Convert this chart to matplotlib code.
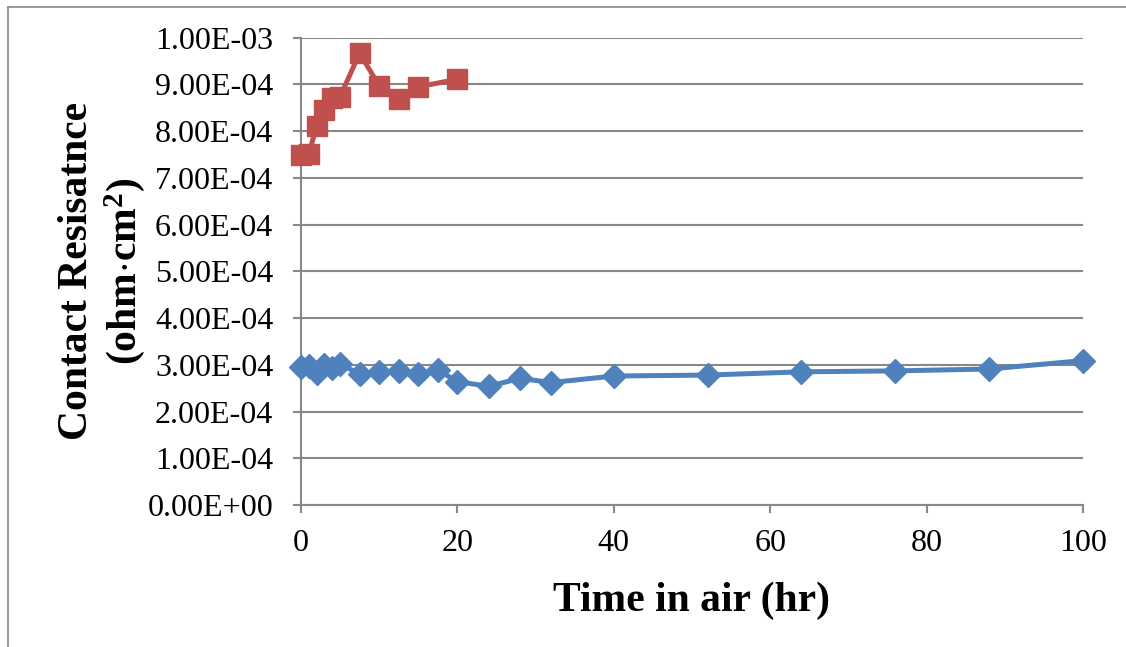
import matplotlib
matplotlib.use('Agg')
import matplotlib.pyplot as plt
from matplotlib.lines import Line2D
from matplotlib.ticker import FuncFormatter

# time in air (hr) and contact resistance (ohm cm^2)
red_time = [0, 1, 2, 3, 4, 5, 7.5, 10, 12.5, 15, 20]
red_res = [7.49e-4, 7.51e-4, 8.11e-4, 8.45e-4, 8.70e-4, 8.74e-4,
           9.67e-4, 8.97e-4, 8.68e-4, 8.95e-4, 9.11e-4]

blue_time = [0, 1, 2, 3, 4, 5, 7.5, 10, 12.5, 15, 17.5, 20, 24, 28, 32,
             40, 52, 64, 76, 88, 100]
blue_res = [2.96e-4, 2.97e-4, 2.82e-4, 3.00e-4, 2.93e-4, 3.02e-4, 2.80e-4,
            2.84e-4, 2.87e-4, 2.80e-4, 2.89e-4, 2.64e-4, 2.54e-4, 2.71e-4,
            2.62e-4, 2.76e-4, 2.78e-4, 2.85e-4, 2.87e-4, 2.91e-4, 3.09e-4]

y_ticks = [i * 1e-4 for i in range(11)]
x_ticks = [0, 20, 40, 60, 80, 100]

plt.rcParams['font.family'] = 'Liberation Serif'
plt.rcParams['mathtext.fontset'] = 'custom'
plt.rcParams['mathtext.rm'] = 'Liberation Serif'
plt.rcParams['mathtext.bf'] = 'Liberation Serif:bold'

grey = '#888888'

fig = plt.figure(figsize=(11.26, 6.47), dpi=100)
ax = fig.add_axes([0.2673, 0.2195, 0.6945, 0.7222])

ax.plot(blue_time, blue_res, color='#4F81BD', lw=3.6, marker='D', ms=12,
        clip_on=False, zorder=3)
ax.plot(red_time, red_res, color='#C0504D', lw=3.6, marker='s', ms=15,
        clip_on=False, zorder=4)

ax.set_xlim(0, 100)
ax.set_ylim(0, 1e-3)
ax.set_xticks(x_ticks)
ax.set_yticks(y_ticks)
ax.yaxis.set_major_formatter(FuncFormatter(lambda v, p: '%.2E' % v))
ax.grid(axis='y', color=grey, lw=1.5)
ax.set_axisbelow(True)

for s in ['top', 'right']:
    ax.spines[s].set_visible(False)
for s in ['left', 'bottom']:
    ax.spines[s].set_color(grey)
    ax.spines[s].set_linewidth(1.5)

ax.tick_params(axis='y', length=6, width=1.5, color=grey, labelsize=23, pad=14)
ax.tick_params(axis='x', length=6, width=1.5, color=grey, labelsize=23, pad=11)

ax.set_xlabel('Time in air (hr)', fontsize=30, fontweight='bold', labelpad=17)
ax.set_ylabel('Contact Resisatnce\n(ohm$\\mathbf{\\cdot}$cm$\\mathbf{^2}$)',
              fontsize=30, fontweight='bold', labelpad=0, linespacing=1.2)

# outer chart border
fig.add_artist(Line2D([8 / 1126, 1], [1 - 7 / 647, 1 - 7 / 647], color=grey, lw=1.2))
fig.add_artist(Line2D([8 / 1126, 8 / 1126], [0, 1 - 7 / 647], color=grey, lw=1.2))

fig.savefig('out.png', dpi=100)
